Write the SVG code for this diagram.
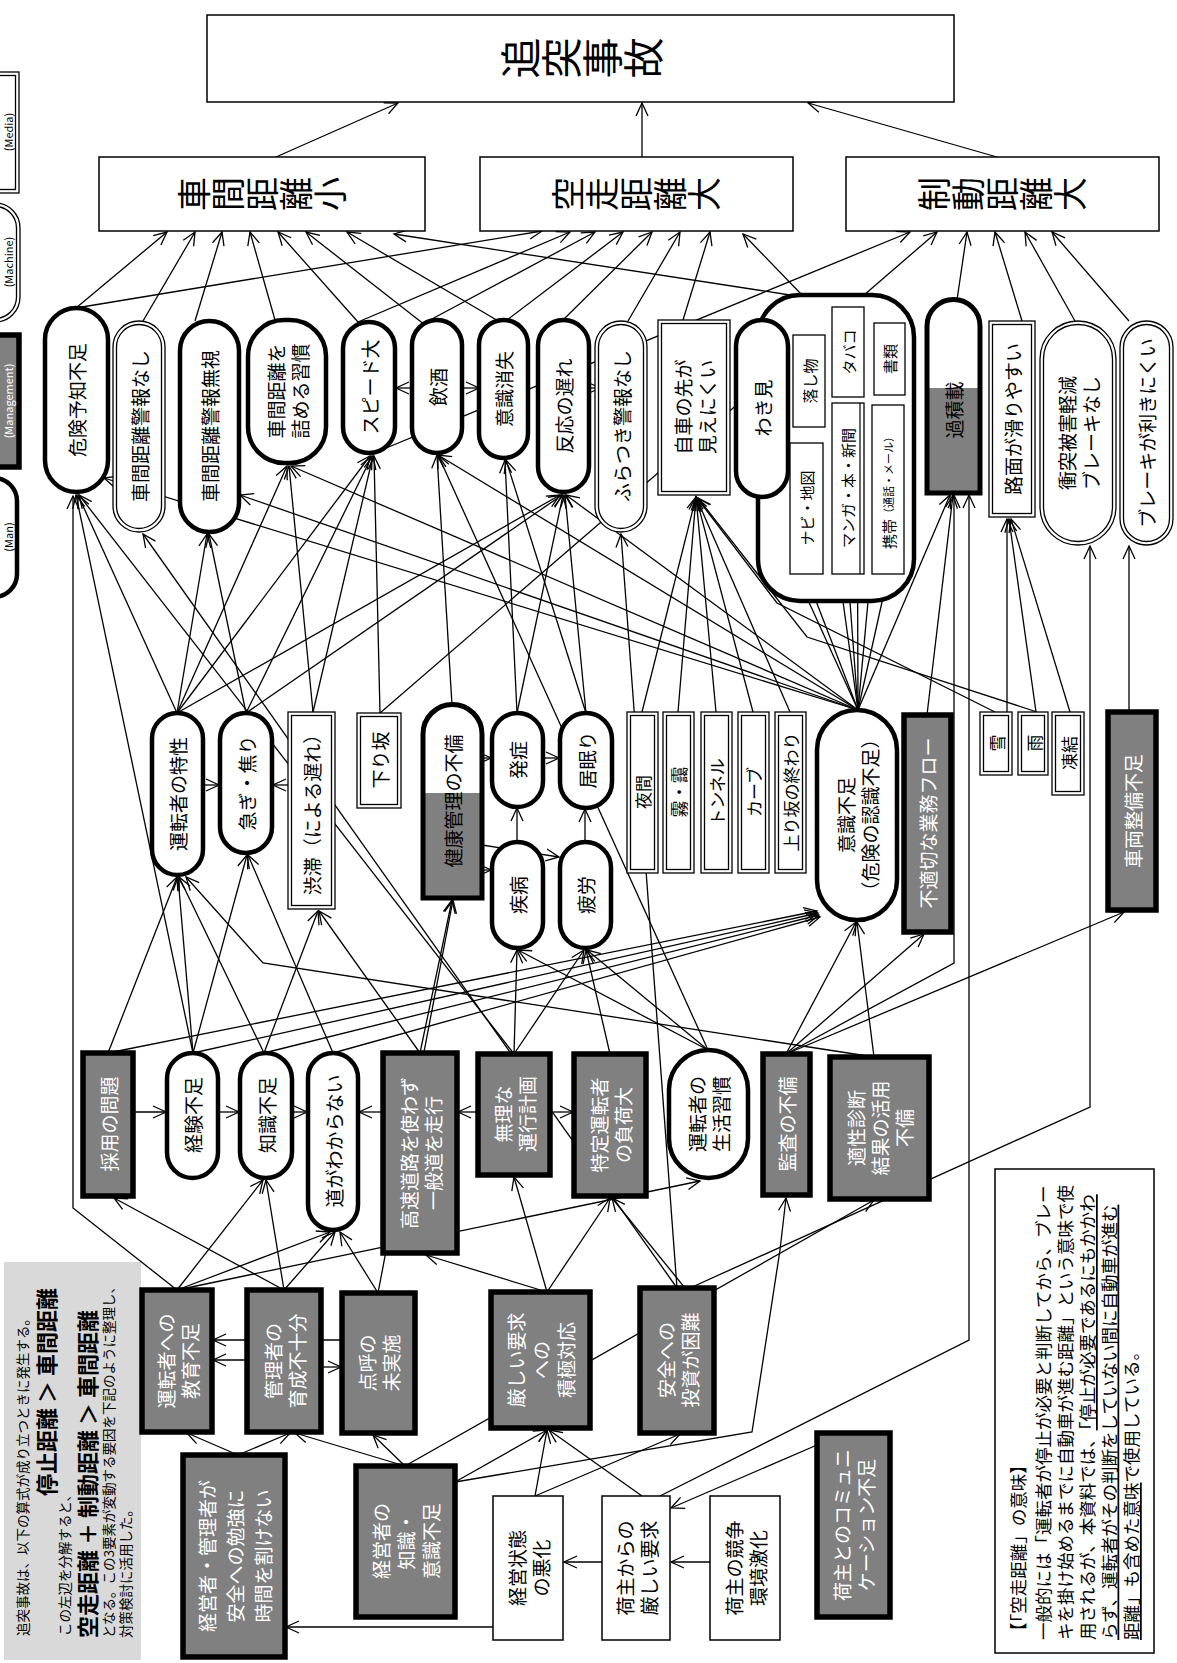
<svg xmlns="http://www.w3.org/2000/svg" width="1177" height="1663" viewBox="0 0 1177 1663">
<defs>
<marker id="a" markerUnits="userSpaceOnUse" markerWidth="16" markerHeight="14" refX="14" refY="7" orient="auto"><path d="M1,1 L14,7 L1,13" fill="none" stroke="#000" stroke-width="1.3"/></marker>
<style>
.c{stroke:#000;stroke-width:1.3;fill:none;marker-end:url(#a)}
.man{fill:#fff;stroke:#000;stroke-width:4.5}
.mg{fill:#808080;stroke:#000;stroke-width:5.5}
.db{fill:#fff;stroke:#000;stroke-width:1.3}
.pl{fill:#fff;stroke:#000;stroke-width:1.5}
text{font-family:"Noto Sans CJK JP","Noto Sans CJK SC",sans-serif;text-anchor:middle;dominant-baseline:central;fill:#000}
.t{font-size:19px}
.s{font-size:15px}
.e{font-size:17px}
.w{fill:#fff}
.v{writing-mode:vertical-rl}
.f{font-size:13.5px;text-anchor:start}
.fe{text-anchor:end}
.b{font-size:22px;font-weight:bold}
.nt{font-size:17.5px;text-anchor:start}
.lg{font-size:11px}
</style>
</defs>

<g id="legend">
<rect x="-20" y="72" width="39" height="121" class="db"/><rect x="-16" y="75.5" width="31.5" height="114" class="db"/>
<text class="lg" transform="translate(8,132) rotate(-90)">(Media)</text>
<rect x="-30" y="203" width="50" height="119" rx="25" class="db"/><rect x="-26.5" y="206.5" width="43" height="112" rx="21.5" class="db"/>
<text class="lg" transform="translate(8,262) rotate(-90)">(Machine)</text>
<rect x="-30" y="335" width="49" height="132" class="mg"/>
<text class="lg w" transform="translate(8,401) rotate(-90)">(Management)</text>
<rect x="-30" y="478" width="47" height="119" rx="23" class="man"/>
<text class="lg" transform="translate(8,537) rotate(-90)">(Man)</text>
</g>

<g id="formula">
<rect x="4" y="1262" width="137" height="398" fill="#d9d9d9"/>
<text class="f" transform="translate(22,1636) rotate(-90)">追突事故は、以下の算式が成り立つときに発生する。</text>
<text class="b fe" transform="translate(45,1288) rotate(-90)">停止距離 ＞ 車間距離</text>
<text class="f" transform="translate(64,1636) rotate(-90)">この左辺を分解すると、</text>
<text class="b" transform="translate(86,1638) rotate(-90)" style="text-anchor:start">空走距離 ＋ 制動距離 ＞ 車間距離</text>
<text class="f" transform="translate(108,1638) rotate(-90)">となる。この3要素が変動する要因を下記のように整理し、</text>
<text class="f" transform="translate(125,1638) rotate(-90)">対策検討に活用した。</text>
</g>

<g id="note">
<rect x="995" y="1169" width="159" height="484" class="pl"/>
<text class="nt" transform="translate(1017,1640) rotate(-90)">【「空走距離」の意味】</text>
<text class="nt" transform="translate(1042,1640) rotate(-90)">一般的には「運転者が停止が必要と判断してから、ブレー</text>
<text class="nt" transform="translate(1064,1640) rotate(-90)">キを掛け始めるまでに自動車が進む距離」という意味で使</text>
<text class="nt" transform="translate(1086,1640) rotate(-90)">用されるが、本資料では、<tspan text-decoration="underline">「停止が必要であるにもかかわ</tspan></text>
<text class="nt" transform="translate(1108,1640) rotate(-90)" text-decoration="underline">らず、運転者がその判断をしていない間に自動車が進む</text>
<text class="nt" transform="translate(1130,1640) rotate(-90)"><tspan text-decoration="underline">距離」も含めた意味</tspan>で使用している。</text>
</g>

<g id="connectors">
<line class="c" x1="276" y1="157" x2="398" y2="103"/>
<line class="c" x1="642" y1="157" x2="642" y2="103"/>
<line class="c" x1="997" y1="157" x2="808" y2="103"/>
<line class="c" x1="76" y1="308" x2="167" y2="232"/>
<line class="c" x1="143" y1="321" x2="195" y2="232"/>
<line class="c" x1="195" y1="321" x2="222" y2="232"/>
<line class="c" x1="275" y1="320" x2="250" y2="232"/>
<line class="c" x1="358" y1="322" x2="278" y2="232"/>
<line class="c" x1="425" y1="325" x2="306" y2="232"/>
<line class="c" x1="500" y1="322" x2="347" y2="232"/>
<line class="c" x1="790" y1="295" x2="394" y2="234"/>
<line class="c" x1="76" y1="308" x2="542" y2="231"/>
<line class="c" x1="358" y1="322" x2="570" y2="232"/>
<line class="c" x1="430" y1="320" x2="595" y2="232"/>
<line class="c" x1="507" y1="320" x2="623" y2="232"/>
<line class="c" x1="563" y1="320" x2="652" y2="232"/>
<line class="c" x1="628" y1="321" x2="680" y2="232"/>
<line class="c" x1="683" y1="320" x2="710" y2="232"/>
<line class="c" x1="802" y1="295" x2="743" y2="234"/>
<line class="c" x1="374" y1="453" x2="910" y2="232"/>
<line class="c" x1="380" y1="713" x2="937" y2="232"/>
<line class="c" x1="957" y1="300" x2="967" y2="232"/>
<line class="c" x1="1022" y1="321" x2="995" y2="232"/>
<line class="c" x1="1075" y1="321" x2="1025" y2="232"/>
<line class="c" x1="1129" y1="321" x2="1052" y2="232"/>
<line class="c" x1="412" y1="388" x2="396" y2="388"/>
<line class="c" x1="462" y1="388" x2="479" y2="388"/>
<line class="c" x1="589" y1="388" x2="600" y2="388"/>
<line class="c" x1="177" y1="713" x2="78" y2="495"/>
<line class="c" x1="177" y1="713" x2="207" y2="534"/>
<line class="c" x1="177" y1="713" x2="287" y2="466"/>
<line class="c" x1="177" y1="713" x2="370" y2="456"/>
<line class="c" x1="177" y1="713" x2="560" y2="495"/>
<line class="c" x1="246" y1="713" x2="209" y2="534"/>
<line class="c" x1="246" y1="713" x2="372" y2="456"/>
<line class="c" x1="246" y1="713" x2="562" y2="495"/>
<line class="c" x1="313" y1="712" x2="289" y2="466"/>
<line class="c" x1="313" y1="712" x2="373" y2="456"/>
<line class="c" x1="380" y1="713" x2="374" y2="456"/>
<line class="c" x1="452" y1="705" x2="437" y2="455"/>
<line class="c" x1="517" y1="713" x2="505" y2="460"/>
<line class="c" x1="517" y1="713" x2="563" y2="495"/>
<line class="c" x1="586" y1="713" x2="565" y2="495"/>
<line class="c" x1="586" y1="713" x2="506" y2="460"/>
<line class="c" x1="642" y1="712" x2="696" y2="497"/>
<line class="c" x1="678" y1="712" x2="696" y2="497"/>
<line class="c" x1="716" y1="712" x2="696" y2="497"/>
<line class="c" x1="753" y1="712" x2="696" y2="497"/>
<line class="c" x1="790" y1="712" x2="696" y2="497"/>
<line class="c" x1="858" y1="710" x2="104" y2="478"/>
<line class="c" x1="858" y1="710" x2="240" y2="495"/>
<line class="c" x1="858" y1="710" x2="291" y2="466"/>
<line class="c" x1="858" y1="710" x2="438" y2="455"/>
<line class="c" x1="858" y1="710" x2="566" y2="495"/>
<line class="c" x1="858" y1="710" x2="762" y2="499"/>
<line class="c" x1="858" y1="710" x2="806" y2="575"/>
<line class="c" x1="858" y1="710" x2="848" y2="575"/>
<line class="c" x1="858" y1="710" x2="888" y2="575"/>
<line class="c" x1="858" y1="710" x2="819" y2="428"/>
<line class="c" x1="858" y1="710" x2="857" y2="398"/>
<line class="c" x1="858" y1="710" x2="887" y2="396"/>
<line class="c" x1="858" y1="710" x2="950" y2="495"/>
<line class="c" x1="927" y1="715" x2="953" y2="495"/>
<line class="c" x1="1007" y1="712" x2="1007" y2="519"/>
<line class="c" x1="1036" y1="712" x2="1009" y2="519"/>
<line class="c" x1="1070" y1="712" x2="1011" y2="519"/>
<path class="c" d="M1037,712 L807,637 L698,498"/>
<path class="c" d="M995,712 L777,603 L697,498"/>
<line class="c" x1="1129" y1="712" x2="1129" y2="546"/>
<line class="c" x1="203" y1="785" x2="219" y2="785"/>
<line class="c" x1="288" y1="785" x2="273" y2="785"/>
<line class="c" x1="482" y1="758" x2="491" y2="758"/>
<line class="c" x1="543" y1="758" x2="559" y2="758"/>
<line class="c" x1="482" y1="870" x2="491" y2="870"/>
<line class="c" x1="482" y1="845" x2="559" y2="857"/>
<line class="c" x1="517" y1="842" x2="517" y2="808"/>
<line class="c" x1="585" y1="842" x2="585" y2="809"/>
<line class="c" x1="108" y1="1053" x2="177" y2="877"/>
<line class="c" x1="108" y1="1053" x2="817" y2="911"/>
<line class="c" x1="133" y1="1112" x2="166" y2="1112"/>
<line class="c" x1="193" y1="1053" x2="76" y2="495"/>
<line class="c" x1="193" y1="1053" x2="178" y2="877"/>
<line class="c" x1="193" y1="1053" x2="247" y2="855"/>
<line class="c" x1="193" y1="1053" x2="818" y2="913"/>
<line class="c" x1="218" y1="1112" x2="239" y2="1112"/>
<line class="c" x1="264" y1="1053" x2="179" y2="877"/>
<line class="c" x1="264" y1="1053" x2="318" y2="911"/>
<line class="c" x1="264" y1="1053" x2="819" y2="915"/>
<line class="c" x1="292" y1="1112" x2="307" y2="1112"/>
<line class="c" x1="333" y1="1053" x2="248" y2="855"/>
<line class="c" x1="333" y1="1053" x2="820" y2="917"/>
<line class="c" x1="383" y1="1112" x2="359" y2="1112"/>
<line class="c" x1="420" y1="1053" x2="319" y2="911"/>
<line class="c" x1="420" y1="1053" x2="452" y2="900"/>
<line class="c" x1="514" y1="1054" x2="79" y2="495"/>
<line class="c" x1="514" y1="1054" x2="517" y2="950"/>
<line class="c" x1="514" y1="1054" x2="584" y2="950"/>
<line class="c" x1="478" y1="1112" x2="458" y2="1112"/>
<line class="c" x1="550" y1="1112" x2="573" y2="1112"/>
<line class="c" x1="610" y1="1054" x2="586" y2="950"/>
<line class="c" x1="708" y1="1050" x2="518" y2="950"/>
<line class="c" x1="708" y1="1050" x2="587" y2="950"/>
<line class="c" x1="708" y1="1050" x2="438" y2="455"/>
<line class="c" x1="786" y1="1054" x2="856" y2="922"/>
<line class="c" x1="786" y1="1054" x2="924" y2="934"/>
<line class="c" x1="786" y1="1054" x2="1124" y2="912"/>
<path class="c" d="M786,1054 L954,963 L954,495"/>
<line class="c" x1="874" y1="1057" x2="857" y2="922"/>
<path class="c" d="M874,1057 L263,963 L186,877"/>
<path class="c" d="M177,1290 L73,1208 L73,496"/>
<line class="c" x1="177" y1="1290" x2="263" y2="1180"/>
<line class="c" x1="177" y1="1290" x2="330" y2="1232"/>
<line class="c" x1="177" y1="1290" x2="700" y2="1181"/>
<line class="c" x1="284" y1="1290" x2="114" y2="1198"/>
<line class="c" x1="284" y1="1290" x2="266" y2="1180"/>
<line class="c" x1="284" y1="1290" x2="335" y2="1232"/>
<line class="c" x1="378" y1="1293" x2="340" y2="1232"/>
<line class="c" x1="378" y1="1293" x2="453" y2="900"/>
<line class="c" x1="342" y1="1340" x2="213" y2="1340"/>
<line class="c" x1="247" y1="1360" x2="213" y2="1360"/>
<line class="c" x1="321" y1="1367" x2="341" y2="1367"/>
<line class="c" x1="238" y1="1455" x2="187" y2="1433"/>
<line class="c" x1="238" y1="1455" x2="290" y2="1433"/>
<line class="c" x1="405" y1="1466" x2="295" y2="1433"/>
<line class="c" x1="405" y1="1466" x2="373" y2="1435"/>
<line class="c" x1="455" y1="1482" x2="547" y2="1430"/>
<path class="c" d="M455,1482 L752,1432 L780,1250 L786,1198"/>
<line class="c" x1="405" y1="1466" x2="874" y2="1200"/>
<path class="c" d="M493,1627 L286,1627"/>
<line class="c" x1="602" y1="1562" x2="564" y2="1562"/>
<line class="c" x1="710" y1="1562" x2="671" y2="1562"/>
<line class="c" x1="535" y1="1496" x2="547" y2="1430"/>
<line class="c" x1="535" y1="1496" x2="680" y2="1434"/>
<line class="c" x1="642" y1="1496" x2="549" y2="1430"/>
<line class="c" x1="817" y1="1445" x2="671" y2="1508"/>
<path class="c" d="M660,1496 L969,1340 L969,495"/>
<line class="c" x1="547" y1="1292" x2="514" y2="1177"/>
<line class="c" x1="547" y1="1292" x2="610" y2="1198"/>
<line class="c" x1="547" y1="1292" x2="426" y2="1255"/>
<line class="c" x1="685" y1="1288" x2="612" y2="1198"/>
<line class="c" x1="677" y1="1288" x2="143" y2="534"/>
<line class="c" x1="677" y1="1288" x2="621" y2="534"/>
<path class="c" d="M690,1288 L1090,1107 L1090,546"/>
</g>

<g id="n-title"><rect x="207" y="15" width="747" height="87" class="pl"/><text class="v" transform="translate(582,58) rotate(-90)" font-size="41">追突事故</text></g>
<g id="n-shakan"><rect x="99" y="157" width="326" height="74" class="pl"/><text class="v" transform="translate(262,194) rotate(-90)" font-size="34">車間距離小</text></g>
<g id="n-kuso"><rect x="480" y="157" width="313" height="74" class="pl"/><text class="v" transform="translate(636,194) rotate(-90)" font-size="34">空走距離大</text></g>
<g id="n-seido"><rect x="846" y="157" width="313" height="74" class="pl"/><text class="v" transform="translate(1002,194) rotate(-90)" font-size="34">制動距離大</text></g>

<g id="n1"><rect x="45" y="308" width="63" height="184" rx="31.5" class="man"/><text class="t" transform="translate(76,400) rotate(-90)" font-size="20">危険予知不足</text></g>
<g id="n2"><rect x="113" y="321" width="52" height="211" rx="26" class="db"/><rect x="116.5" y="324.5" width="45" height="204" rx="22.5" class="db"/><text class="t" transform="translate(139,426) rotate(-90)">車間距離警報なし</text></g>
<g id="n3"><rect x="180" y="321" width="59" height="211" rx="29.5" class="man"/><text class="t" transform="translate(209,426) rotate(-90)">車間距離警報無視</text></g>
<g id="n4"><rect x="248" y="320" width="78" height="143" rx="36" class="man"/><text class="t" transform="translate(287,391) rotate(-90)"><tspan x="0" y="-12">車間距離を</tspan><tspan x="0" y="12">詰める習慣</tspan></text></g>
<g id="n5"><rect x="343" y="322" width="52" height="131" rx="26" class="man"/><text class="t" transform="translate(369,387) rotate(-90)">スピード大</text></g>
<g id="n6"><rect x="412" y="320" width="50" height="133" rx="25" class="man"/><text class="t" transform="translate(437,387) rotate(-90)">飲酒</text></g>
<g id="n7"><rect x="479" y="320" width="49" height="138" rx="24.5" class="man"/><text class="t" transform="translate(503,389) rotate(-90)">意識消失</text></g>
<g id="n8"><rect x="538" y="320" width="51" height="172" rx="25.5" class="man"/><text class="t" transform="translate(563,406) rotate(-90)">反応の遅れ</text></g>
<g id="n9"><rect x="595" y="321" width="52" height="211" rx="26" class="db"/><rect x="598.5" y="324.5" width="45" height="204" rx="22.5" class="db"/><text class="t" transform="translate(621,426) rotate(-90)">ふらつき警報なし</text></g>
<g id="n10"><rect x="658" y="320" width="72" height="175" class="db"/><rect x="661.5" y="323.5" width="65" height="168" class="db"/><text class="t" transform="translate(694,407) rotate(-90)"><tspan x="0" y="-12">自車の先が</tspan><tspan x="0" y="12">見えにくい</tspan></text></g>
<g id="n-group"><rect x="758" y="295" width="156" height="306" rx="42" class="man"/></g>
<g id="n11"><rect x="736" y="320" width="52" height="177" rx="26" class="man"/><text class="t" transform="translate(762,408) rotate(-90)">わき見</text></g>
<g id="n11a"><rect x="793" y="335" width="32" height="92" class="db"/><text class="s" transform="translate(809,381) rotate(-90)">落し物</text></g>
<g id="n11b"><rect x="832" y="307" width="32" height="90" class="db"/><text class="s" transform="translate(848,352) rotate(-90)">タバコ</text></g>
<g id="n11c"><rect x="874" y="323" width="31" height="72" class="db"/><text class="s" transform="translate(889,359) rotate(-90)">書類</text></g>
<g id="n11d"><rect x="790" y="443" width="33" height="131" class="db"/><text class="s" transform="translate(806,508) rotate(-90)">ナビ・地図</text></g>
<g id="n11e"><rect x="832" y="403" width="32" height="171" class="db"/><line x1="860" y1="403" x2="860" y2="574" stroke="#000" stroke-width="1.2"/><text class="s" transform="translate(847,488) rotate(-90)">マンガ・本・新聞</text></g>
<g id="n11f"><rect x="872" y="405" width="32" height="169" class="db"/><text class="s" transform="translate(888,490) rotate(-90)">携帯<tspan font-size="11">（通話・メール）</tspan></text></g>
<g id="n12"><path d="M927,493 L927,326 A26.5,26.5 0 0 1 980,326 L980,493 Z" fill="#fff"/><rect x="927" y="388" width="53" height="105" fill="#808080"/><path d="M927,493 L927,326 A26.5,26.5 0 0 1 980,326 L980,493 Z" fill="none" stroke="#000" stroke-width="5"/><text class="t" transform="translate(953,410) rotate(-90)">過積載</text></g>
<g id="n13"><rect x="989" y="321" width="46" height="196" class="db"/><rect x="992.5" y="324.5" width="39" height="189" class="db"/><text class="t" transform="translate(1012,419) rotate(-90)">路面が滑りやすい</text></g>
<g id="n14"><rect x="1040" y="321" width="76" height="224" rx="38" class="db"/><rect x="1043.5" y="324.5" width="69" height="217" rx="34.5" class="db"/><text class="t" transform="translate(1078,433) rotate(-90)"><tspan x="0" y="-12">衝突被害軽減</tspan><tspan x="0" y="12">ブレーキなし</tspan></text></g>
<g id="n15"><rect x="1120" y="321" width="53" height="224" rx="26.5" class="db"/><rect x="1123.5" y="324.5" width="46" height="217" rx="23" class="db"/><text class="t" transform="translate(1146,433) rotate(-90)">ブレーキが利きにくい</text></g>

<g id="m1"><rect x="152" y="713" width="51" height="162" rx="25.5" class="man"/><text class="t" transform="translate(177,794) rotate(-90)">運転者の特性</text></g>
<g id="m2"><rect x="220" y="713" width="52" height="140" rx="26" class="man"/><text class="t" transform="translate(246,783) rotate(-90)">急ぎ・焦り</text></g>
<g id="m3"><rect x="288" y="712" width="47" height="197" class="db"/><rect x="291.5" y="715.5" width="40" height="190" class="db"/><text class="t" transform="translate(311,810) rotate(-90)">渋滞（による遅れ）</text></g>
<g id="m4"><rect x="357" y="713" width="44" height="95" class="db"/><rect x="360.5" y="716.5" width="37" height="88" class="db"/><text class="t" transform="translate(379,760) rotate(-90)">下り坂</text></g>
<g id="m5"><path d="M423,898 L423,734 A29.5,29.5 0 0 1 482,734 L482,898 Z" fill="#fff"/><rect x="423" y="793" width="59" height="105" fill="#808080"/><path d="M423,898 L423,734 A29.5,29.5 0 0 1 482,734 L482,898 Z" fill="none" stroke="#000" stroke-width="5"/><text class="t" transform="translate(452,801) rotate(-90)">健康管理の不備</text></g>
<g id="m6"><rect x="492" y="713" width="51" height="94" rx="25.5" class="man"/><text class="t" transform="translate(517,760) rotate(-90)">発症</text></g>
<g id="m7"><rect x="560" y="713" width="52" height="95" rx="26" class="man"/><text class="t" transform="translate(586,760) rotate(-90)">居眠り</text></g>
<g id="m8"><rect x="492" y="842" width="51" height="106" rx="25.5" class="man"/><text class="t" transform="translate(517,895) rotate(-90)">疾病</text></g>
<g id="m9"><rect x="560" y="842" width="51" height="106" rx="25.5" class="man"/><text class="t" transform="translate(585,895) rotate(-90)">疲労</text></g>
<g id="m10"><rect x="627" y="712" width="31" height="161" class="db"/><rect x="630.5" y="715.5" width="24" height="154" class="db"/><text class="e" transform="translate(642,792) rotate(-90)">夜間</text></g>
<g id="m11"><rect x="663" y="712" width="31" height="161" class="db"/><rect x="666.5" y="715.5" width="24" height="154" class="db"/><text class="e" transform="translate(678,792) rotate(-90)">霧・靄</text></g>
<g id="m12"><rect x="701" y="712" width="31" height="161" class="db"/><rect x="704.5" y="715.5" width="24" height="154" class="db"/><text class="e" transform="translate(716,792) rotate(-90)">トンネル</text></g>
<g id="m13"><rect x="738" y="712" width="31" height="161" class="db"/><rect x="741.5" y="715.5" width="24" height="154" class="db"/><text class="e" transform="translate(753,792) rotate(-90)">カーブ</text></g>
<g id="m14"><rect x="775" y="712" width="31" height="161" class="db"/><rect x="778.5" y="715.5" width="24" height="154" class="db"/><text class="e" transform="translate(790,792) rotate(-90)">上り坂の終わり</text></g>
<g id="m15"><rect x="817" y="710" width="80" height="210" rx="40" class="man"/><text class="t" transform="translate(857,815) rotate(-90)"><tspan x="0" y="-12">意識不足</tspan><tspan x="0" y="12">（危険の認識不足）</tspan></text></g>
<g id="m16"><rect x="904" y="715" width="47" height="217" class="mg"/><text class="t w" transform="translate(927,823) rotate(-90)">不適切な業務フロー</text></g>
<g id="m17"><rect x="980" y="712" width="32" height="63" class="db"/><rect x="983.5" y="715.5" width="25" height="56" class="db"/><text class="e" transform="translate(996,743) rotate(-90)">雪</text></g>
<g id="m18"><rect x="1018" y="712" width="30" height="63" class="db"/><rect x="1021.5" y="715.5" width="23" height="56" class="db"/><text class="e" transform="translate(1033,743) rotate(-90)">雨</text></g>
<g id="m19"><rect x="1052" y="712" width="32" height="83" class="db"/><rect x="1055.5" y="715.5" width="25" height="76" class="db"/><text class="e" transform="translate(1068,753) rotate(-90)">凍結</text></g>
<g id="m20"><rect x="1108" y="712" width="48" height="198" class="mg"/><text class="t w" transform="translate(1132,811) rotate(-90)">車両整備不足</text></g>

<g id="l1"><rect x="83" y="1053" width="50" height="143" class="mg"/><text class="t w" transform="translate(108,1124) rotate(-90)">採用の問題</text></g>
<g id="l2"><rect x="167" y="1053" width="51" height="125" rx="25.5" class="man"/><text class="t" transform="translate(192,1115) rotate(-90)">経験不足</text></g>
<g id="l3"><rect x="240" y="1053" width="52" height="125" rx="26" class="man"/><text class="t" transform="translate(266,1115) rotate(-90)">知識不足</text></g>
<g id="l4"><rect x="308" y="1053" width="50" height="177" rx="25" class="man"/><text class="t" transform="translate(333,1141) rotate(-90)">道がわからない</text></g>
<g id="l5"><rect x="383" y="1053" width="74" height="200" class="mg"/><text class="t w" transform="translate(420,1153) rotate(-90)"><tspan x="0" y="-12">高速道路を使わず</tspan><tspan x="0" y="12">一般道を走行</tspan></text></g>
<g id="l6"><rect x="478" y="1054" width="72" height="121" class="mg"/><text class="t w" transform="translate(514,1114) rotate(-90)"><tspan x="0" y="-12">無理な</tspan><tspan x="0" y="12">運行計画</tspan></text></g>
<g id="l7"><rect x="574" y="1054" width="72" height="142" class="mg"/><text class="t w" transform="translate(610,1125) rotate(-90)"><tspan x="0" y="-12">特定運転者</tspan><tspan x="0" y="12">の負荷大</tspan></text></g>
<g id="l8"><rect x="669" y="1050" width="79" height="128" rx="39.5" class="man"/><text class="t" transform="translate(708,1114) rotate(-90)"><tspan x="0" y="-12">運転者の</tspan><tspan x="0" y="12">生活習慣</tspan></text></g>
<g id="l9"><rect x="763" y="1054" width="47" height="141" class="mg"/><text class="t w" transform="translate(786,1124) rotate(-90)">監査の不備</text></g>
<g id="l10"><rect x="830" y="1057" width="99" height="142" class="mg"/><text class="t w" transform="translate(879,1128) rotate(-90)"><tspan x="0" y="-24">適性診断</tspan><tspan x="0" y="0">結果の活用</tspan><tspan x="0" y="24">不備</tspan></text></g>

<g id="k1"><rect x="142" y="1290" width="70" height="142" class="mg"/><text class="t w" transform="translate(177,1361) rotate(-90)" font-size="21"><tspan x="0" y="-12">運転者への</tspan><tspan x="0" y="12">教育不足</tspan></text></g>
<g id="k2"><rect x="247" y="1290" width="74" height="142" class="mg"/><text class="t w" transform="translate(284,1361) rotate(-90)" font-size="21"><tspan x="0" y="-12">管理者の</tspan><tspan x="0" y="12">育成不十分</tspan></text></g>
<g id="k3"><rect x="342" y="1293" width="73" height="140" class="mg"/><text class="t w" transform="translate(378,1363) rotate(-90)" font-size="21"><tspan x="0" y="-12">点呼の</tspan><tspan x="0" y="12">未実施</tspan></text></g>
<g id="k4"><rect x="183" y="1455" width="102" height="202" class="mg"/><text class="t w" transform="translate(234,1556) rotate(-90)" font-size="23"><tspan x="0" y="-28">経営者・管理者が</tspan><tspan x="0" y="0">安全への勉強に</tspan><tspan x="0" y="28">時間を割けない</tspan></text></g>
<g id="k5"><rect x="356" y="1466" width="99" height="151" class="mg"/><text class="t w" transform="translate(405,1541) rotate(-90)" font-size="21"><tspan x="0" y="-25">経営者の</tspan><tspan x="0" y="0">知識・</tspan><tspan x="0" y="25">意識不足</tspan></text></g>
<g id="k6"><rect x="491" y="1292" width="99" height="136" class="mg"/><text class="t w" transform="translate(540,1360) rotate(-90)" font-size="21"><tspan x="0" y="-25">厳しい要求</tspan><tspan x="0" y="0">への</tspan><tspan x="0" y="25">積極対応</tspan></text></g>
<g id="k7"><rect x="640" y="1288" width="74" height="145" class="mg"/><text class="t w" transform="translate(677,1360) rotate(-90)" font-size="21"><tspan x="0" y="-12">安全への</tspan><tspan x="0" y="12">投資が困難</tspan></text></g>
<g id="k8"><rect x="493" y="1496" width="70" height="144" class="pl"/><text class="t" transform="translate(528,1568) rotate(-90)" font-size="21"><tspan x="0" y="-12">経営状態</tspan><tspan x="0" y="12">の悪化</tspan></text></g>
<g id="k9"><rect x="602" y="1496" width="68" height="144" class="pl"/><text class="t" transform="translate(636,1568) rotate(-90)" font-size="21"><tspan x="0" y="-12">荷主からの</tspan><tspan x="0" y="12">厳しい要求</tspan></text></g>
<g id="k10"><rect x="710" y="1496" width="70" height="144" class="pl"/><text class="t" transform="translate(745,1568) rotate(-90)" font-size="21"><tspan x="0" y="-12">荷主の競争</tspan><tspan x="0" y="12">環境激化</tspan></text></g>
<g id="k11"><rect x="817" y="1433" width="73" height="184" class="mg"/><text class="t w" transform="translate(853,1525) rotate(-90)" font-size="20"><tspan x="0" y="-12">荷主とのコミュニ</tspan><tspan x="0" y="12">ケーション不足</tspan></text></g>
</svg>
